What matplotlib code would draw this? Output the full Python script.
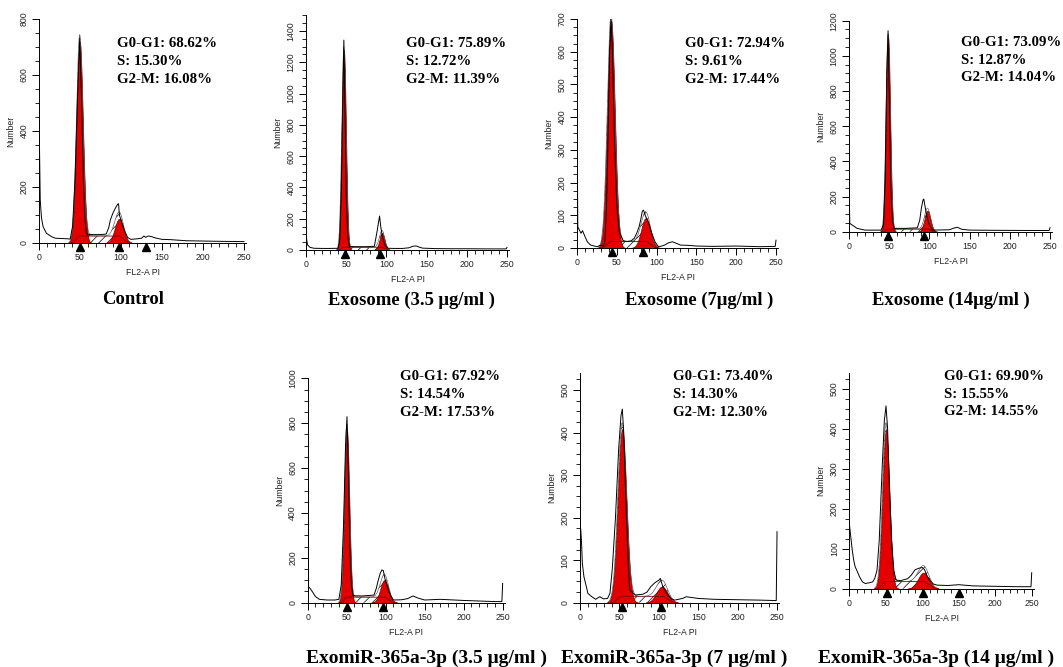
import matplotlib
matplotlib.use("Agg")
import matplotlib.pyplot as plt
import matplotlib.transforms as mtransforms
import numpy as np
from matplotlib.ticker import MultipleLocator, AutoMinorLocator

W, H = 1063, 667

titles = ["Control", "Exosome (3.5 μg/ml )", "Exosome (7μg/ml )", "Exosome (14μg/ml )",
          "ExomiR-365a-3p (3.5 μg/ml )", "ExomiR-365a-3p (7 μg/ml )", "ExomiR-365a-3p (14 μg/ml )"]
g1_pct = ["68.62", "75.89", "72.94", "73.09", "67.92", "73.40", "69.90"]
s_pct = ["15.30", "12.72", "9.61", "12.87", "14.54", "14.30", "15.55"]
g2m_pct = ["16.08", "11.39", "17.44", "14.04", "17.53", "12.30", "14.55"]

y_max = [800, 1500, 700, 1200, 1000, 540, 540]
y_label_max = [800, 1400, 700, 1200, 1000, 500, 500]
y_step = [200, 200, 100, 200, 200, 100, 100]

# measured histogram envelope, (channel, count)
outline_control = [(0, 470), (1.5, 154), (3, 90), (5, 58), (9, 35), (15, 23), (20, 17), (28, 16), (35, 15), (38, 14),
                   (41, 60), (44, 230), (47, 520), (49.6, 731), (52, 500), (54, 230), (56, 80), (58, 32), (65, 30),
                   (75, 30), (82, 32), (85, 55), (87, 82), (90, 106), (93, 124), (96, 139), (97, 140), (98, 100),
                   (100, 82), (104, 46), (108, 20), (112, 13), (120, 15), (125, 17), (128, 25), (130, 20), (133, 25),
                   (137, 23), (142, 18), (150, 13), (160, 12), (180, 8), (200, 7), (220, 6), (250, 5)]
outline_exo35 = [(0, 107), (1, 60), (2, 32), (5, 17), (10, 11), (20, 10), (30, 10), (40, 11), (42, 60), (44, 400),
                 (46, 1050), (47.1, 1342), (48.5, 900), (50, 350), (52, 80), (54, 22), (65, 21), (75, 21), (85, 24),
                 (88, 107), (90, 170), (91.5, 217), (93, 149), (95, 85), (98, 32), (102, 11), (110, 10), (120, 10),
                 (128, 14), (133, 24), (137, 26), (141, 18), (145, 12), (160, 9), (180, 8), (200, 8), (230, 7),
                 (249, 7), (250, 17)]
outline_exo7 = [(0, 432), (1, 65), (3, 55), (5, 45), (7, 53), (10, 35), (13, 19), (17, 9), (25, 4), (30, 9), (33, 5),
                (35, 20), (37, 120), (39, 330), (41, 600), (42.7, 700), (44.5, 600), (47, 330), (50, 130), (53, 50),
                (58, 22), (63, 20), (68, 22), (72, 30), (75, 45), (78, 65), (80, 86), (82, 112), (83.5, 116),
                (86, 98), (90, 77), (94, 45), (98, 19), (102, 5), (105, 5), (110, 9), (115, 16), (120, 19),
                (125, 14), (130, 9), (140, 8), (150, 6), (170, 5), (200, 6), (230, 4), (249, 5), (250, 24)]
outline_exo14 = [(0, 294), (1, 47), (4, 38), (10, 19), (20, 9), (30, 9), (40, 9), (43, 40), (45, 300), (47, 900),
                 (48.6, 1143), (50, 800), (52, 250), (54, 60), (56, 19), (70, 19), (85, 22), (88, 66), (90, 133),
                 (92, 180), (93, 186), (95, 133), (97, 85), (100, 38), (104, 9), (115, 10), (125, 11), (130, 20),
                 (135, 25), (140, 14), (150, 9), (180, 8), (220, 7), (249, 7), (250, 23)]
outline_mir35 = [(0, 577), (1, 71), (3, 64), (6, 49), (10, 27), (15, 15), (25, 12), (35, 12), (40, 15), (43, 80),
                 (46, 350), (48.5, 700), (50.4, 829), (52, 600), (54, 250), (56, 80), (58, 31), (70, 30), (85, 34),
                 (88, 64), (90, 94), (93, 131), (95, 146), (97, 143), (99, 108), (102, 71), (106, 34), (110, 12),
                 (120, 13), (128, 18), (135, 30), (142, 20), (150, 12), (170, 15), (200, 10), (240, 5), (249, 5),
                 (250, 86)]
outline_mir7 = [(0, 186), (1, 171), (2, 139), (3, 92), (5, 61), (8, 38), (10, 22), (15, 14), (20, 8), (25, 14),
                (30, 9), (35, 10), (38, 22), (41, 80), (45, 200), (49, 360), (52, 440), (53.7, 455), (55.5, 400),
                (58, 250), (61, 100), (63, 30), (70, 18), (80, 20), (85, 25), (90, 38), (95, 47), (100, 53),
                (102, 57), (105, 38), (110, 22), (115, 10), (120, 6), (130, 10), (135, 14), (150, 10), (170, 8),
                (200, 7), (230, 6), (249, 5), (250, 167)]
outline_mir14 = [(0, 163), (2, 130), (4, 97), (6, 72), (8, 55), (10, 47), (14, 30), (18, 17), (22, 13), (28, 15),
                 (32, 17), (35, 26), (38, 47), (41, 120), (45, 300), (48, 420), (50.3, 457), (52.5, 400), (55, 250),
                 (58, 120), (61, 45), (64, 22), (70, 20), (80, 25), (85, 34), (90, 47), (95, 51), (100, 53),
                 (103, 48), (106, 34), (110, 22), (115, 12), (120, 9), (135, 8), (150, 10), (170, 7), (200, 6),
                 (230, 5), (249, 5), (250, 40)]
outlines = [outline_control, outline_exo35, outline_exo7, outline_exo14, outline_mir35, outline_mir7, outline_mir14]

# fitted components: (position, height, sd)
g1_fit = [(49.6, 719, 3.9), (47.1, 1278, 2.6), (42.8, 695, 4.7), (48.6, 1109, 2.6),
          (50.2, 770, 3.1), (53.5, 408, 5.4), (50.3, 397, 4.7)]
g2_fit = [(97.6, 86, 5.2), (94.6, 107, 3.2), (86.3, 91, 5.7), (97.6, 119, 3.7),
          (98.3, 101, 5.2), (104, 38, 7.0), (101.5, 40, 7.2)]
s_level = [25, 18, 20, 15, 25, 15, 18]
markers = [[50, 97, 130], [48, 92], [44, 83], [48, 93], [50, 97], [53, 103], [51, 101, 150]]

# axes boxes in pixels: left, right, bottom, top
boxes = [(39, 246.5, 243, 19), (306, 509.4, 250, 15.4), (577, 778.4, 248, 19), (849, 1052.4, 231.7, 20.7),
         (307.7, 505, 602.7, 378.3), (580, 779.4, 602.7, 373), (849.3, 1033.9, 588.7, 372.7)]
text_pos = [(117, 61.5), (406, 61.5), (685, 61.5), (961, 60), (400, 394.3), (673, 394.3), (944, 394)]
title_pos = [(133, 300), (412, 300), (699, 300), (951, 300), (426, 658), (674, 658), (936, 658)]

RED = "#e50000"
serif = ["Liberation Serif", "DejaVu Serif"]
sans = ["Liberation Sans", "DejaVu Sans"]
plt.rcParams["hatch.linewidth"] = 0.5


def gauss(x, mu, h, sd):
    return h * np.exp(-(x - mu) ** 2 / (2 * sd ** 2))


fig = plt.figure(figsize=(W / 100, H / 100), dpi=100)

for i in range(7):
    l, r, b, t = boxes[i]
    ax = fig.add_axes([l / W, 1 - b / H, (r - l) / W, (b - t) / H])
    x = np.linspace(0, 253, 1500)
    m1, h1, sd1 = g1_fit[i]
    m2, h2, sd2 = g2_fit[i]
    g1 = gauss(x, m1, h1, sd1)
    g2 = gauss(x, m2, h2, sd2)
    sp = np.where(x < m1, gauss(x, m1, s_level[i], sd1),
                  np.where(x > m2, gauss(x, m2, s_level[i], sd2), s_level[i]))
    model = g1 + g2 + sp

    ax.fill_between(x, 0, model, where=sp > 0.3, facecolor="white", edgecolor="black",
                    hatch="////", linewidth=0, zorder=1)
    ax.fill_between(x, 0, g1, where=g1 > 0.5, facecolor=RED, edgecolor="#7a0000", linewidth=0.5, zorder=2)
    ax.fill_between(x, 0, g2, where=g2 > 0.5, facecolor=RED, edgecolor="#7a0000", linewidth=0.5, zorder=2)
    ax.plot(x[sp > 0.3], sp[sp > 0.3], color="#7a0000", lw=0.6, zorder=3)
    ax.plot(x[model > 2], model[model > 2], color="#555555", lw=0.45, zorder=3)

    ox, oy = np.array(outlines[i]).T
    ax.plot(ox, oy, color="black", lw=0.7, zorder=4)

    tri = mtransforms.offset_copy(ax.transData, fig=fig, y=-4, units="dots")
    ax.plot(markers[i], [0] * len(markers[i]), ls="none", marker="^", ms=5.5, color="black",
            transform=tri, clip_on=False, zorder=6)

    ax.set_xlim(0, 253)
    ax.set_ylim(0, y_max[i])
    for s in ["top", "right"]:
        ax.spines[s].set_visible(False)
    for s in ["left", "bottom"]:
        ax.spines[s].set_linewidth(0.7)
    ax.xaxis.set_major_locator(MultipleLocator(50))
    ax.xaxis.set_minor_locator(MultipleLocator(10))
    ax.set_yticks(np.arange(0, y_label_max[i] + 1, y_step[i]))
    ax.yaxis.set_minor_locator(AutoMinorLocator(4))
    ax.tick_params(which="major", length=5, width=0.7, direction="out", pad=2.5,
                   labelsize=6.3, labelcolor="#222222")
    ax.tick_params(which="minor", length=3, width=0.6, direction="out")
    for lab in ax.get_yticklabels():
        lab.set_rotation(90)
        lab.set_va("center")
        lab.set_family(sans)
    for lab in ax.get_xticklabels():
        lab.set_family(sans)
    ax.set_ylabel("Number", fontsize=6.3, family=sans, color="#222222", labelpad=3)
    ax.set_xlabel("FL2-A PI", fontsize=6.3, family=sans, color="#222222", labelpad=4)

    tx, ty = text_pos[i]
    fig.text(tx / W, 1 - ty / H,
             f"G0-G1: {g1_pct[i]}%\nS: {s_pct[i]}%\nG2-M: {g2m_pct[i]}%",
             ha="left", va="center", fontsize=10.7, fontweight="bold", family=serif, linespacing=1.48)
    cx, cy = title_pos[i]
    fig.text(cx / W, 1 - cy / H, titles[i], ha="center", va="center",
             fontsize=13.4 if i < 4 else 14, fontweight="bold", family=serif)

fig.savefig("out.png", dpi=100, facecolor="white")
